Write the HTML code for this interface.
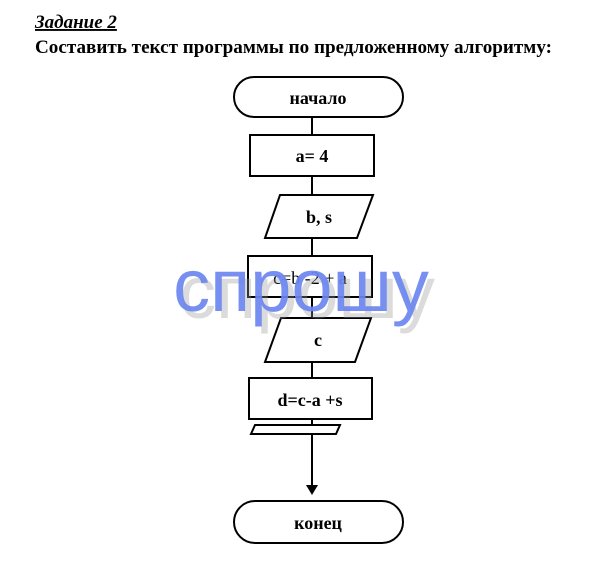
<!DOCTYPE html>
<html><head><meta charset="utf-8"><style>
html,body{margin:0;padding:0;background:#fff;width:600px;height:562px;overflow:hidden}
</style></head><body>
<svg width="600" height="562" xmlns="http://www.w3.org/2000/svg" font-family="Liberation Serif, serif">
<text x="35" y="28" font-size="19" font-weight="bold" font-style="italic" text-decoration="underline">Задание 2</text>
<text x="35" y="53" font-size="19" font-weight="bold" textLength="517" lengthAdjust="spacingAndGlyphs">Составить текст программы по предложенному алгоритму:</text>
<g stroke="#000" stroke-width="2" fill="#fff">
<line x1="312" y1="117" x2="312" y2="487"/>
<rect x="234" y="77" width="169" height="40" rx="20"/>
<rect x="250" y="135" width="124" height="41"/>
<polygon points="280,195 373,195 357,238 265,238"/>
<rect x="248" y="256" width="124" height="41"/>
<polygon points="281,318 371,318 355,362 265,362"/>
<rect x="249" y="378" width="123" height="41"/>
<polygon points="255,425 340,425 336,434 251,434"/>
<rect x="234" y="501" width="169" height="42" rx="21"/>
</g>
<polygon points="306,485 318,485 312,495" fill="#000"/>
<g font-size="18" font-weight="bold" text-anchor="middle">
<text x="318" y="104">начало</text>
<text x="312" y="162">a= 4</text>
<text x="319" y="223">b, s</text>
<text x="310" y="284" font-weight="normal">c=b -2 + a</text>
<text x="318" y="346">c</text>
<text x="310" y="406">d=c-a +s</text>
<text x="318" y="529">конец</text>
</g>
<text x="307" y="318" font-family="Liberation Sans, sans-serif" font-size="74" text-anchor="middle" fill="#999" opacity="0.35">спрошу</text>
<text x="301" y="311" font-family="Liberation Sans, sans-serif" font-size="74" text-anchor="middle" fill="#6b86f0" opacity="0.92">спрошу</text>
</svg>
</body></html>
